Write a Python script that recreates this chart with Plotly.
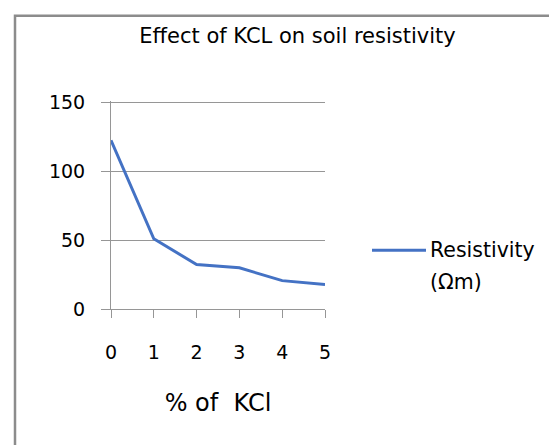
import plotly.graph_objects as go

# ---- data ----
kcl_percent = [0, 1, 2, 3, 4, 5]
resistivity = [122.5, 51, 32.3, 29.9, 20.6, 17.7]
y_ticks = [0, 50, 100, 150]
chart_title = "Effect of KCL on soil resistivity"
x_title = "% of\u00a0 KCl"
series_name = ["Resistivity", "(\u03a9m)"]

# ---- layout geometry (pixels) ----
FW, FH = 557, 445
TOP_GAP = 1.5  # px between plot top and the 150 gridline, so plotly draws it
L, R, T, B = 103, 240, 94 - TOP_GAP, 144
PW, PH = FW - L - R, FH - T - B
y_top = 150 * PH / (PH - TOP_GAP)

def px_x(px):
    return (px - L) / PW

def px_y(py):
    return (FH - B - py) / PH

FONT = "DejaVu Sans"
GRID = "#969696"
BLUE = "#4472C4"

fig = go.Figure()
fig.add_trace(go.Scatter(
    x=kcl_percent, y=resistivity, mode="lines",
    line=dict(color=BLUE, width=3), showlegend=False,
    name=" ".join(series_name), cliponaxis=False,
))

fig.update_layout(
    width=FW, height=FH, autosize=False,
    margin=dict(l=L, r=R, t=T, b=B, pad=0),
    paper_bgcolor="white", plot_bgcolor="white",
    font=dict(family=FONT, size=19, color="black"),
    showlegend=False,
    title=dict(text=chart_title, x=289.5 / FW, xanchor="center", xref="container",
               y=1 - 28 / FH, yanchor="middle", yref="container",
               font=dict(family=FONT, size=21, color="black")),
    xaxis=dict(
        range=[0, 5], tickvals=kcl_percent, ticktext=[str(v) for v in kcl_percent],
        showline=True, linecolor=GRID, linewidth=1,
        ticks="outside", ticklen=8, tickcolor=GRID, tickwidth=1,
        showgrid=False, zeroline=False, ticklabelstandoff=18,
        tickfont=dict(family=FONT, size=19),
        title=dict(text=x_title, standoff=32, font=dict(family=FONT, size=24)),
    ),
    yaxis=dict(
        range=[0, y_top], tickvals=y_ticks,
        showline=True, linecolor=GRID, linewidth=1,
        ticks="outside", ticklen=9, tickcolor=GRID, tickwidth=1,
        showgrid=True, gridcolor=GRID, gridwidth=1, zeroline=False,
        ticklabelstandoff=12,
        tickfont=dict(family=FONT, size=19),
    ),
    shapes=[
        dict(type="rect", xref="paper", yref="paper",
             x0=px_x(7), x1=px_x(FW + 20), y0=px_y(FH + 20), y1=px_y(7),
             line=dict(color="#8c8c8c", width=2.5), fillcolor="rgba(0,0,0,0)", layer="below"),
        dict(type="line", xref="paper", yref="paper",
             x0=px_x(364), x1=px_x(418), y0=px_y(242), y1=px_y(242),
             line=dict(color=BLUE, width=3)),
    ],
    annotations=[
        dict(text=series_name[0], xref="paper", yref="paper", x=px_x(420), y=px_y(242),
             xanchor="left", yanchor="middle", showarrow=False,
             font=dict(family=FONT, size=20.5, color="black")),
        dict(text=series_name[1], xref="paper", yref="paper", x=px_x(420), y=px_y(274),
             xanchor="left", yanchor="middle", showarrow=False,
             font=dict(family=FONT, size=20.5, color="black")),
    ],
)

fig.write_html("out.html")
